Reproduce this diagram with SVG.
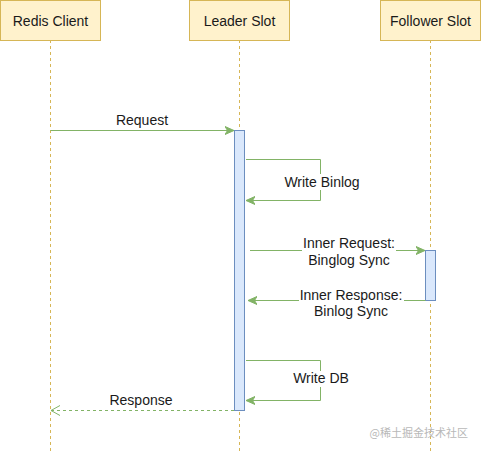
<svg xmlns="http://www.w3.org/2000/svg" width="481" height="451" viewBox="0 0 481 451">
<defs>
<style>
.box{fill:#fff2cc;stroke:#d6b656;stroke-width:1}
.life{stroke:#d6b656;stroke-width:1;stroke-dasharray:3 3;fill:none}
.act{fill:#dae8fc;stroke:#6c8ebf;stroke-width:1}
.msg{stroke:#82b366;stroke-width:1;fill:none}
.t{font-family:"Liberation Sans",Arial,sans-serif;font-size:14px;fill:#1a1a1a;text-anchor:middle}
.bg{fill:#ffffff}
</style>
<marker id="ah" markerWidth="10" markerHeight="10" refX="9" refY="5" orient="auto" markerUnits="userSpaceOnUse">
<path d="M0,1 L9,5 L0,9 L2.5,5 Z" fill="#82b366" stroke="#82b366" stroke-width="1"/>
</marker>
<marker id="oh" markerWidth="12" markerHeight="12" refX="10" refY="6" orient="auto" markerUnits="userSpaceOnUse">
<path d="M1,1 L10,6 L1,11" fill="none" stroke="#82b366" stroke-width="1"/>
</marker>
</defs>
<rect width="481" height="451" fill="#ffffff"/>
<g id="lifelines">
<line class="life" x1="50.5" y1="40" x2="50.5" y2="451"/>
<line class="life" x1="239.5" y1="40" x2="239.5" y2="451"/>
<line class="life" x1="430.5" y1="40" x2="430.5" y2="451"/>
</g>
<g id="redis-client">
<rect class="box" x="0.5" y="0.5" width="100" height="40"/>
<text class="t" x="50.5" y="26">Redis Client</text>
</g>
<g id="leader-slot">
<rect class="box" x="189.5" y="0.5" width="100" height="40"/>
<text class="t" x="239.5" y="26">Leader Slot</text>
</g>
<g id="follower-slot">
<rect class="box" x="380.5" y="0.5" width="100" height="40"/>
<text class="t" x="430.5" y="26">Follower Slot</text>
</g>
<g id="leader-activation">
<rect class="act" x="234.5" y="130.5" width="10" height="280"/>
</g>
<g id="follower-activation">
<rect class="act" x="425.5" y="250.5" width="10" height="50"/>
</g>
<g id="connectors">
<line class="msg" x1="50.5" y1="130.5" x2="234" y2="130.5" marker-end="url(#ah)"/>
<text class="t" x="142" y="125">Request</text>
<polyline class="msg" points="246,159.5 320.5,159.5 320.5,200.5 246,200.5" marker-end="url(#ah)"/>
<rect class="bg" x="283" y="174" width="78" height="16"/>
<text class="t" x="322" y="187">Write Binlog</text>
<line class="msg" x1="250" y1="250.5" x2="425" y2="250.5" marker-end="url(#ah)"/>
<rect class="bg" x="302" y="236" width="94" height="33"/>
<text class="t" x="349" y="248">Inner Request:</text>
<text class="t" x="349" y="265">Binglog Sync</text>
<polyline class="msg" points="425.5,300.5 248,300.5" marker-end="url(#ah)"/>
<rect class="bg" x="299" y="287" width="105" height="33"/>
<text class="t" x="351" y="300">Inner Response:</text>
<text class="t" x="351" y="316">Binlog Sync</text>
<polyline class="msg" points="246,360.5 320.5,360.5 320.5,400.5 246,400.5" marker-end="url(#ah)"/>
<rect class="bg" x="292" y="371" width="58" height="16"/>
<text class="t" x="321" y="383">Write DB</text>
<line class="msg" x1="234" y1="410.5" x2="51" y2="410.5" stroke-dasharray="3 3" marker-end="url(#oh)"/>
<text class="t" x="141" y="405">Response</text>
</g>
<text x="468" y="437" style="font-family:'Noto Sans CJK SC',sans-serif;font-size:11px;fill:#b8b8b8;text-anchor:end">@稀土掘金技术社区</text>
</svg>
